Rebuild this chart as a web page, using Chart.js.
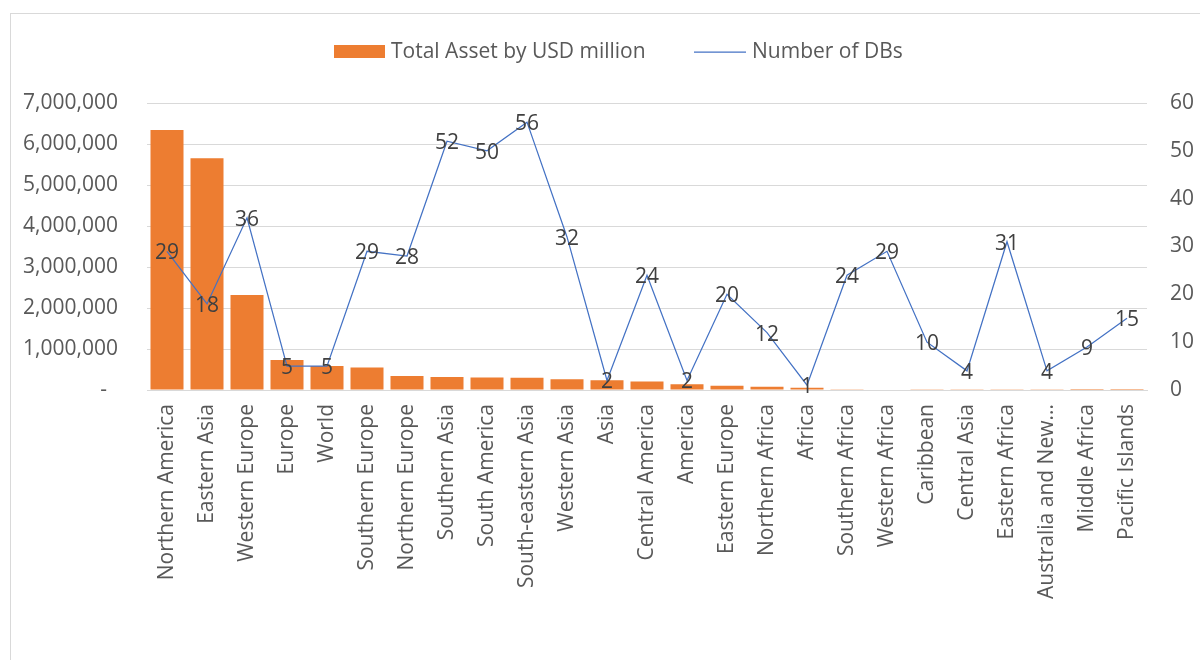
<!DOCTYPE html>
<html>
<head>
<meta charset="utf-8">
<script src="https://cdn.jsdelivr.net/npm/chart.js@4.4.1/dist/chart.umd.min.js"></script>
<style>
  html, body { margin: 0; padding: 0; background: #ffffff; }
  #wrap { width: 1200px; height: 660px; position: relative; }
</style>
</head>
<body>
<div id="wrap"><canvas id="chart" width="1200" height="660"></canvas></div>
<script>
// Regions, ordered by total assets
const regions = [
  'Northern America', 'Eastern Asia', 'Western Europe', 'Europe', 'World',
  'Southern Europe', 'Northern Europe', 'Southern Asia', 'South America',
  'South-eastern Asia', 'Western Asia', 'Asia', 'Central America', 'America',
  'Eastern Europe', 'Northern Africa', 'Africa', 'Southern Africa',
  'Western Africa', 'Caribbean', 'Central Asia', 'Eastern Africa',
  'Australia and New Zealand', 'Middle Africa', 'Pacific Islands'
];

// Total assets, USD million
const totalAssets = [
  6340000, 5650000, 2320000, 730000, 585000,
  550000, 340000, 315000, 305000,
  300000, 260000, 240000, 210000, 140000,
  105000, 80000, 55000, 20000,
  10000, 8000, 6000, 5000,
  4000, 3000, 2000
];

// Number of development banks per region
const numberOfDBs = [
  29, 18, 36, 5, 5,
  29, 28, 52, 50,
  56, 32, 2, 24, 2,
  20, 12, 1, 24,
  29, 10, 4, 31,
  4, 9, 15
];

const leftTicks = [0, 1000000, 2000000, 3000000, 4000000, 5000000, 6000000, 7000000];
const rightTicks = [0, 10, 20, 30, 40, 50, 60];

const FONT = "'Open Sans', 'Liberation Sans', sans-serif";
const FONT_SIZE = 21;
const ORANGE = '#ED7D31';
const BLUE = '#4472C4';
const AXIS_TEXT = '#595959';
const LABEL_TEXT = '#404040';
const GRID = '#d9d9d9';

// Outer frame of the chart
const framePlugin = {
  id: 'frame',
  beforeDraw(chart) {
    const ctx = chart.ctx;
    ctx.save();
    ctx.strokeStyle = GRID;
    ctx.lineWidth = 1;
    ctx.strokeRect(10.5, 13.5, 1400, 1000);
    ctx.restore();
  }
};

// Legend across the top
const legendPlugin = {
  id: 'topLegend',
  afterDraw(chart) {
    const ctx = chart.ctx;
    const cy = 52;
    ctx.save();
    ctx.font = FONT_SIZE + 'px ' + FONT;
    ctx.textBaseline = 'middle';
    ctx.textAlign = 'left';
    ctx.fillStyle = ORANGE;
    ctx.fillRect(334, 45, 51, 13);
    ctx.fillStyle = AXIS_TEXT;
    ctx.fillText(chart.data.datasets[0].label, 391, cy);
    ctx.strokeStyle = BLUE;
    ctx.lineWidth = 1.25;
    ctx.beginPath();
    ctx.moveTo(694, cy);
    ctx.lineTo(746, cy);
    ctx.stroke();
    ctx.fillText(chart.data.datasets[1].label, 752, cy);
    ctx.restore();
  }
};

// Value labels centred on each line point
const pointLabelPlugin = {
  id: 'pointLabels',
  afterDatasetsDraw(chart) {
    const meta = chart.getDatasetMeta(1);
    const data = chart.data.datasets[1].data;
    const ctx = chart.ctx;
    ctx.save();
    ctx.font = FONT_SIZE + 'px ' + FONT;
    ctx.fillStyle = LABEL_TEXT;
    ctx.textAlign = 'center';
    ctx.textBaseline = 'middle';
    meta.data.forEach((pt, i) => {
      ctx.fillText(String(data[i]), pt.x, pt.y + 2);
    });
    ctx.restore();
  }
};

new Chart(document.getElementById('chart'), {
  data: {
    labels: regions,
    datasets: [
      {
        type: 'bar',
        label: 'Total Asset by USD million',
        data: totalAssets,
        backgroundColor: ORANGE,
        borderWidth: 0,
        barPercentage: 0.825,
        categoryPercentage: 1.0,
        yAxisID: 'y',
        order: 2
      },
      {
        type: 'line',
        label: 'Number of DBs',
        data: numberOfDBs,
        borderColor: BLUE,
        borderWidth: 1.25,
        pointRadius: 0,
        pointHoverRadius: 0,
        tension: 0,
        fill: false,
        yAxisID: 'y1',
        order: 1
      }
    ]
  },
  options: {
    responsive: false,
    animation: false,
    devicePixelRatio: 1,
    layout: { padding: { top: 103, left: 0, right: 0, bottom: 0 } },
    plugins: {
      legend: { display: false },
      tooltip: { enabled: false }
    },
    scales: {
      x: {
        grid: { display: false, drawTicks: false },
        border: { display: true, color: GRID, width: 1 },
        ticks: {
          color: AXIS_TEXT,
          font: { family: FONT, size: FONT_SIZE },
          maxRotation: 90,
          minRotation: 90,
          autoSkip: false,
          padding: 14,
          callback(value) {
            const s = this.getLabelForValue(value);
            return s.length > 20 ? s.slice(0, 17) + '...' : s;
          }
        },
        afterFit(scale) { scale.height = 270; }
      },
      y: {
        position: 'left',
        min: 0,
        max: 7000000,
        afterBuildTicks(scale) { scale.ticks = leftTicks.map(v => ({ value: v })); },
        grid: { color: GRID, lineWidth: 1, drawTicks: false },
        border: { display: false },
        ticks: {
          color: AXIS_TEXT,
          font: { family: FONT, size: FONT_SIZE },
          padding: 29,
          callback(v) { return v === 0 ? '-  ' : v.toLocaleString('en-US'); }
        },
        afterFit(scale) { scale.width = 147; }
      },
      y1: {
        position: 'right',
        min: 0,
        max: 60,
        afterBuildTicks(scale) { scale.ticks = rightTicks.map(v => ({ value: v })); },
        grid: { display: false, drawTicks: false },
        border: { display: false },
        ticks: {
          color: AXIS_TEXT,
          font: { family: FONT, size: FONT_SIZE },
          padding: 23
        },
        afterFit(scale) { scale.width = 53; }
      }
    }
  },
  plugins: [framePlugin, legendPlugin, pointLabelPlugin]
});
</script>
</body>
</html>
